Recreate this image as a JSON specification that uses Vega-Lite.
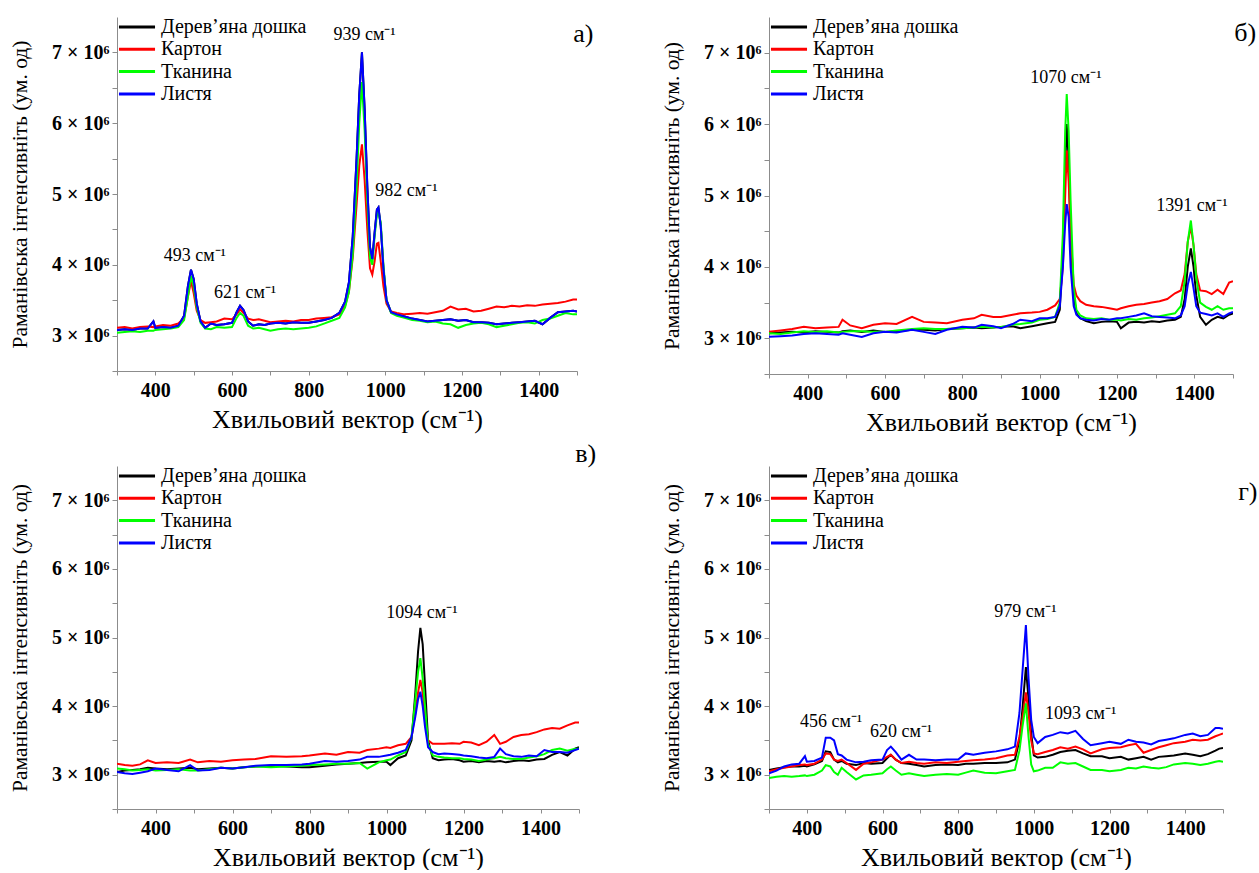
{
"$schema": "https://vega.github.io/schema/vega-lite/v6.json",
"background": "white",
"padding": {"left": 9, "top": 17, "right": 0, "bottom": 0},
"config": {
  "font": "Times New Roman",
  "view": {"stroke": null},
  "axis": {"grid": false, "domainColor": "#8c8c8c", "tickColor": "#8c8c8c", "labelFont": "Times New Roman", "labelFontWeight": "bold", "labelColor": "#000000", "titleFont": "Times New Roman", "titleFontWeight": "normal", "titleColor": "#000000", "labelOverlap": false},
  "axisX": {"labelFontSize": 20, "titleFontSize": 26, "tickSize": 4, "labelPadding": 5, "titlePadding": 6, "labelFlush": false},
  "axisY": {"labelFontSize": 20, "titleFontSize": 21.5, "tickSize": 5, "labelPadding": 3, "titlePadding": 20},
  "legend": {"orient": "top-left", "offset": 0, "padding": 0, "title": null, "symbolType": "stroke", "symbolStrokeWidth": 3, "symbolSize": 1300, "labelFont": "Times New Roman", "labelFontSize": 20, "labelColor": "#000000", "clipHeight": 20, "rowPadding": 2.3, "labelOffset": 4},
  "text": {"font": "Times New Roman", "color": "#000000"}
},
"datasets": {
  "a": [
    {"x":300,"D":3.08e6,"K":3.11e6,"T":3.04e6,"L":3.08e6},
    {"x":320,"D":3.09e6,"K":3.12e6,"T":3.05e6,"L":3.09e6},
    {"x":340,"D":3.08e6,"K":3.10e6,"T":3.06e6,"L":3.08e6},
    {"x":360,"D":3.10e6,"K":3.12e6,"T":3.05e6,"L":3.10e6},
    {"x":380,"D":3.10e6,"K":3.13e6,"T":3.07e6,"L":3.10e6},
    {"x":395,"D":3.20e6,"K":3.12e6,"T":3.07e6,"L":3.20e6},
    {"x":400,"D":3.11e6,"K":3.13e6,"T":3.08e6,"L":3.11e6},
    {"x":420,"D":3.12e6,"K":3.15e6,"T":3.09e6,"L":3.12e6},
    {"x":440,"D":3.11e6,"K":3.14e6,"T":3.10e6,"L":3.11e6},
    {"x":460,"D":3.14e6,"K":3.17e6,"T":3.12e6,"L":3.14e6},
    {"x":475,"D":3.28e6,"K":3.25e6,"T":3.22e6,"L":3.28e6},
    {"x":485,"D":3.70e6,"K":3.55e6,"T":3.55e6,"L":3.70e6},
    {"x":493,"D":3.93e6,"K":3.77e6,"T":3.84e6,"L":3.93e6},
    {"x":500,"D":3.80e6,"K":3.60e6,"T":3.70e6,"L":3.80e6},
    {"x":508,"D":3.45e6,"K":3.35e6,"T":3.40e6,"L":3.45e6},
    {"x":518,"D":3.20e6,"K":3.22e6,"T":3.18e6,"L":3.20e6},
    {"x":530,"D":3.11e6,"K":3.18e6,"T":3.10e6,"L":3.11e6},
    {"x":545,"D":3.17e6,"K":3.19e6,"T":3.09e6,"L":3.17e6},
    {"x":560,"D":3.15e6,"K":3.20e6,"T":3.12e6,"L":3.15e6},
    {"x":580,"D":3.16e6,"K":3.24e6,"T":3.11e6,"L":3.16e6},
    {"x":600,"D":3.18e6,"K":3.23e6,"T":3.12e6,"L":3.18e6},
    {"x":612,"D":3.33e6,"K":3.30e6,"T":3.25e6,"L":3.33e6},
    {"x":621,"D":3.42e6,"K":3.37e6,"T":3.32e6,"L":3.42e6},
    {"x":630,"D":3.36e6,"K":3.32e6,"T":3.28e6,"L":3.36e6},
    {"x":642,"D":3.20e6,"K":3.24e6,"T":3.14e6,"L":3.20e6},
    {"x":655,"D":3.14e6,"K":3.22e6,"T":3.10e6,"L":3.14e6},
    {"x":670,"D":3.16e6,"K":3.23e6,"T":3.11e6,"L":3.16e6},
    {"x":685,"D":3.15e6,"K":3.21e6,"T":3.09e6,"L":3.15e6},
    {"x":700,"D":3.17e6,"K":3.19e6,"T":3.07e6,"L":3.17e6},
    {"x":720,"D":3.18e6,"K":3.20e6,"T":3.09e6,"L":3.18e6},
    {"x":740,"D":3.17e6,"K":3.21e6,"T":3.10e6,"L":3.17e6},
    {"x":760,"D":3.19e6,"K":3.20e6,"T":3.09e6,"L":3.19e6},
    {"x":780,"D":3.18e6,"K":3.22e6,"T":3.10e6,"L":3.18e6},
    {"x":800,"D":3.18e6,"K":3.22e6,"T":3.11e6,"L":3.18e6},
    {"x":820,"D":3.20e6,"K":3.24e6,"T":3.13e6,"L":3.20e6},
    {"x":840,"D":3.22e6,"K":3.25e6,"T":3.17e6,"L":3.22e6},
    {"x":860,"D":3.25e6,"K":3.26e6,"T":3.21e6,"L":3.25e6},
    {"x":880,"D":3.32e6,"K":3.30e6,"T":3.25e6,"L":3.32e6},
    {"x":895,"D":3.48e6,"K":3.42e6,"T":3.40e6,"L":3.48e6},
    {"x":905,"D":3.75e6,"K":3.62e6,"T":3.62e6,"L":3.75e6},
    {"x":915,"D":4.40e6,"K":4.10e6,"T":4.15e6,"L":4.40e6},
    {"x":925,"D":5.50e6,"K":4.85e6,"T":5.10e6,"L":5.50e6},
    {"x":932,"D":6.40e6,"K":5.40e6,"T":6.00e6,"L":6.40e6},
    {"x":939,"D":7.00e6,"K":5.70e6,"T":6.58e6,"L":7.00e6},
    {"x":946,"D":6.20e6,"K":5.20e6,"T":5.90e6,"L":6.20e6},
    {"x":953,"D":5.10e6,"K":4.50e6,"T":4.90e6,"L":5.10e6},
    {"x":960,"D":4.25e6,"K":3.95e6,"T":4.10e6,"L":4.25e6},
    {"x":966,"D":4.08e6,"K":3.86e6,"T":4.00e6,"L":4.08e6},
    {"x":972,"D":4.45e6,"K":4.05e6,"T":4.40e6,"L":4.45e6},
    {"x":978,"D":4.78e6,"K":4.30e6,"T":4.70e6,"L":4.78e6},
    {"x":982,"D":4.81e6,"K":4.31e6,"T":4.74e6,"L":4.81e6},
    {"x":988,"D":4.55e6,"K":4.05e6,"T":4.60e6,"L":4.55e6},
    {"x":995,"D":3.95e6,"K":3.70e6,"T":4.00e6,"L":3.95e6},
    {"x":1003,"D":3.50e6,"K":3.45e6,"T":3.50e6,"L":3.50e6},
    {"x":1015,"D":3.33e6,"K":3.34e6,"T":3.32e6,"L":3.33e6},
    {"x":1030,"D":3.30e6,"K":3.32e6,"T":3.28e6,"L":3.30e6},
    {"x":1050,"D":3.27e6,"K":3.30e6,"T":3.25e6,"L":3.27e6},
    {"x":1070,"D":3.24e6,"K":3.31e6,"T":3.22e6,"L":3.24e6},
    {"x":1090,"D":3.22e6,"K":3.32e6,"T":3.21e6,"L":3.22e6},
    {"x":1110,"D":3.20e6,"K":3.31e6,"T":3.19e6,"L":3.20e6},
    {"x":1130,"D":3.21e6,"K":3.33e6,"T":3.20e6,"L":3.21e6},
    {"x":1150,"D":3.22e6,"K":3.35e6,"T":3.17e6,"L":3.22e6},
    {"x":1170,"D":3.23e6,"K":3.41e6,"T":3.16e6,"L":3.23e6},
    {"x":1190,"D":3.21e6,"K":3.37e6,"T":3.11e6,"L":3.21e6},
    {"x":1210,"D":3.22e6,"K":3.38e6,"T":3.15e6,"L":3.22e6},
    {"x":1230,"D":3.19e6,"K":3.34e6,"T":3.17e6,"L":3.19e6},
    {"x":1250,"D":3.19e6,"K":3.35e6,"T":3.18e6,"L":3.19e6},
    {"x":1270,"D":3.18e6,"K":3.38e6,"T":3.16e6,"L":3.18e6},
    {"x":1290,"D":3.16e6,"K":3.41e6,"T":3.12e6,"L":3.16e6},
    {"x":1310,"D":3.17e6,"K":3.40e6,"T":3.14e6,"L":3.17e6},
    {"x":1330,"D":3.18e6,"K":3.42e6,"T":3.16e6,"L":3.18e6},
    {"x":1350,"D":3.19e6,"K":3.41e6,"T":3.18e6,"L":3.19e6},
    {"x":1370,"D":3.20e6,"K":3.43e6,"T":3.19e6,"L":3.20e6},
    {"x":1390,"D":3.21e6,"K":3.42e6,"T":3.17e6,"L":3.21e6},
    {"x":1410,"D":3.16e6,"K":3.44e6,"T":3.22e6,"L":3.16e6},
    {"x":1430,"D":3.25e6,"K":3.45e6,"T":3.24e6,"L":3.25e6},
    {"x":1450,"D":3.33e6,"K":3.46e6,"T":3.28e6,"L":3.33e6},
    {"x":1470,"D":3.34e6,"K":3.48e6,"T":3.32e6,"L":3.34e6},
    {"x":1490,"D":3.35e6,"K":3.51e6,"T":3.30e6,"L":3.35e6},
    {"x":1500,"D":3.34e6,"K":3.51e6,"T":3.30e6,"L":3.34e6}
  ],
  "b": [
    {"x":300,"D":3.07e6,"K":3.09e6,"T":3.07e6,"L":3.02e6},
    {"x":330,"D":3.08e6,"K":3.11e6,"T":3.06e6,"L":3.03e6},
    {"x":360,"D":3.09e6,"K":3.13e6,"T":3.08e6,"L":3.04e6},
    {"x":390,"D":3.08e6,"K":3.16e6,"T":3.10e6,"L":3.06e6},
    {"x":420,"D":3.10e6,"K":3.14e6,"T":3.09e6,"L":3.07e6},
    {"x":450,"D":3.09e6,"K":3.15e6,"T":3.10e6,"L":3.06e6},
    {"x":480,"D":3.08e6,"K":3.16e6,"T":3.08e6,"L":3.05e6},
    {"x":490,"D":3.10e6,"K":3.26e6,"T":3.09e6,"L":3.07e6},
    {"x":510,"D":3.11e6,"K":3.18e6,"T":3.10e6,"L":3.05e6},
    {"x":540,"D":3.09e6,"K":3.14e6,"T":3.10e6,"L":3.02e6},
    {"x":570,"D":3.11e6,"K":3.19e6,"T":3.09e6,"L":3.07e6},
    {"x":600,"D":3.09e6,"K":3.21e6,"T":3.09e6,"L":3.09e6},
    {"x":630,"D":3.10e6,"K":3.20e6,"T":3.11e6,"L":3.08e6},
    {"x":670,"D":3.12e6,"K":3.30e6,"T":3.13e6,"L":3.12e6},
    {"x":700,"D":3.12e6,"K":3.23e6,"T":3.14e6,"L":3.09e6},
    {"x":730,"D":3.11e6,"K":3.22e6,"T":3.13e6,"L":3.06e6},
    {"x":760,"D":3.13e6,"K":3.21e6,"T":3.13e6,"L":3.12e6},
    {"x":800,"D":3.14e6,"K":3.26e6,"T":3.14e6,"L":3.16e6},
    {"x":830,"D":3.15e6,"K":3.28e6,"T":3.15e6,"L":3.15e6},
    {"x":850,"D":3.14e6,"K":3.33e6,"T":3.16e6,"L":3.19e6},
    {"x":880,"D":3.15e6,"K":3.30e6,"T":3.15e6,"L":3.17e6},
    {"x":900,"D":3.16e6,"K":3.30e6,"T":3.16e6,"L":3.14e6},
    {"x":930,"D":3.17e6,"K":3.33e6,"T":3.19e6,"L":3.20e6},
    {"x":950,"D":3.14e6,"K":3.35e6,"T":3.20e6,"L":3.26e6},
    {"x":980,"D":3.17e6,"K":3.36e6,"T":3.22e6,"L":3.24e6},
    {"x":1000,"D":3.19e6,"K":3.37e6,"T":3.26e6,"L":3.28e6},
    {"x":1020,"D":3.21e6,"K":3.40e6,"T":3.27e6,"L":3.28e6},
    {"x":1040,"D":3.23e6,"K":3.46e6,"T":3.30e6,"L":3.30e6},
    {"x":1052,"D":3.40e6,"K":3.55e6,"T":3.50e6,"L":3.45e6},
    {"x":1060,"D":4.23e6,"K":4.00e6,"T":4.47e6,"L":4.00e6},
    {"x":1066,"D":5.40e6,"K":5.00e6,"T":5.90e6,"L":4.60e6},
    {"x":1070,"D":6.00e6,"K":5.63e6,"T":6.42e6,"L":4.88e6},
    {"x":1075,"D":5.50e6,"K":5.20e6,"T":5.90e6,"L":4.70e6},
    {"x":1080,"D":4.47e6,"K":4.47e6,"T":4.93e6,"L":4.00e6},
    {"x":1088,"D":3.60e6,"K":3.75e6,"T":3.70e6,"L":3.45e6},
    {"x":1095,"D":3.35e6,"K":3.60e6,"T":3.40e6,"L":3.33e6},
    {"x":1105,"D":3.28e6,"K":3.52e6,"T":3.32e6,"L":3.28e6},
    {"x":1120,"D":3.24e6,"K":3.47e6,"T":3.28e6,"L":3.26e6},
    {"x":1140,"D":3.21e6,"K":3.45e6,"T":3.27e6,"L":3.25e6},
    {"x":1160,"D":3.23e6,"K":3.44e6,"T":3.28e6,"L":3.27e6},
    {"x":1180,"D":3.24e6,"K":3.42e6,"T":3.26e6,"L":3.26e6},
    {"x":1200,"D":3.23e6,"K":3.40e6,"T":3.26e6,"L":3.28e6},
    {"x":1210,"D":3.14e6,"K":3.42e6,"T":3.25e6,"L":3.28e6},
    {"x":1230,"D":3.22e6,"K":3.45e6,"T":3.27e6,"L":3.30e6},
    {"x":1250,"D":3.23e6,"K":3.47e6,"T":3.26e6,"L":3.32e6},
    {"x":1270,"D":3.22e6,"K":3.48e6,"T":3.28e6,"L":3.35e6},
    {"x":1290,"D":3.24e6,"K":3.50e6,"T":3.29e6,"L":3.31e6},
    {"x":1310,"D":3.23e6,"K":3.52e6,"T":3.31e6,"L":3.30e6},
    {"x":1330,"D":3.25e6,"K":3.55e6,"T":3.33e6,"L":3.29e6},
    {"x":1350,"D":3.26e6,"K":3.63e6,"T":3.35e6,"L":3.28e6},
    {"x":1365,"D":3.30e6,"K":3.67e6,"T":3.45e6,"L":3.32e6},
    {"x":1375,"D":3.55e6,"K":3.90e6,"T":3.80e6,"L":3.45e6},
    {"x":1383,"D":4.00e6,"K":4.35e6,"T":4.35e6,"L":3.75e6},
    {"x":1391,"D":4.26e6,"K":4.56e6,"T":4.65e6,"L":3.93e6},
    {"x":1398,"D":4.00e6,"K":4.30e6,"T":4.30e6,"L":3.70e6},
    {"x":1405,"D":3.60e6,"K":3.90e6,"T":3.85e6,"L":3.45e6},
    {"x":1415,"D":3.30e6,"K":3.67e6,"T":3.50e6,"L":3.36e6},
    {"x":1430,"D":3.19e6,"K":3.66e6,"T":3.44e6,"L":3.34e6},
    {"x":1445,"D":3.26e6,"K":3.62e6,"T":3.40e6,"L":3.32e6},
    {"x":1460,"D":3.30e6,"K":3.68e6,"T":3.45e6,"L":3.35e6},
    {"x":1475,"D":3.28e6,"K":3.62e6,"T":3.40e6,"L":3.30e6},
    {"x":1490,"D":3.33e6,"K":3.78e6,"T":3.42e6,"L":3.35e6},
    {"x":1500,"D":3.35e6,"K":3.80e6,"T":3.42e6,"L":3.37e6}
  ],
  "c": [
    {"x":300,"D":3.04e6,"K":3.16e6,"T":3.09e6,"L":3.04e6},
    {"x":320,"D":3.06e6,"K":3.14e6,"T":3.08e6,"L":3.02e6},
    {"x":340,"D":3.07e6,"K":3.13e6,"T":3.06e6,"L":3.01e6},
    {"x":360,"D":3.08e6,"K":3.15e6,"T":3.07e6,"L":3.03e6},
    {"x":380,"D":3.10e6,"K":3.21e6,"T":3.08e6,"L":3.05e6},
    {"x":400,"D":3.09e6,"K":3.17e6,"T":3.06e6,"L":3.09e6},
    {"x":430,"D":3.08e6,"K":3.18e6,"T":3.07e6,"L":3.07e6},
    {"x":460,"D":3.09e6,"K":3.17e6,"T":3.08e6,"L":3.05e6},
    {"x":490,"D":3.10e6,"K":3.22e6,"T":3.06e6,"L":3.14e6},
    {"x":510,"D":3.08e6,"K":3.18e6,"T":3.06e6,"L":3.06e6},
    {"x":540,"D":3.09e6,"K":3.20e6,"T":3.08e6,"L":3.07e6},
    {"x":570,"D":3.10e6,"K":3.19e6,"T":3.10e6,"L":3.10e6},
    {"x":600,"D":3.09e6,"K":3.21e6,"T":3.09e6,"L":3.09e6},
    {"x":630,"D":3.11e6,"K":3.22e6,"T":3.11e6,"L":3.11e6},
    {"x":660,"D":3.12e6,"K":3.23e6,"T":3.12e6,"L":3.13e6},
    {"x":700,"D":3.13e6,"K":3.27e6,"T":3.11e6,"L":3.14e6},
    {"x":740,"D":3.12e6,"K":3.26e6,"T":3.12e6,"L":3.14e6},
    {"x":780,"D":3.11e6,"K":3.27e6,"T":3.13e6,"L":3.15e6},
    {"x":800,"D":3.11e6,"K":3.28e6,"T":3.14e6,"L":3.16e6},
    {"x":840,"D":3.13e6,"K":3.31e6,"T":3.15e6,"L":3.20e6},
    {"x":870,"D":3.15e6,"K":3.29e6,"T":3.16e6,"L":3.19e6},
    {"x":900,"D":3.16e6,"K":3.33e6,"T":3.16e6,"L":3.20e6},
    {"x":930,"D":3.17e6,"K":3.32e6,"T":3.17e6,"L":3.22e6},
    {"x":950,"D":3.18e6,"K":3.36e6,"T":3.09e6,"L":3.26e6},
    {"x":980,"D":3.19e6,"K":3.38e6,"T":3.18e6,"L":3.26e6},
    {"x":1000,"D":3.19e6,"K":3.40e6,"T":3.21e6,"L":3.28e6},
    {"x":1010,"D":3.14e6,"K":3.39e6,"T":3.22e6,"L":3.29e6},
    {"x":1030,"D":3.24e6,"K":3.43e6,"T":3.28e6,"L":3.32e6},
    {"x":1050,"D":3.28e6,"K":3.45e6,"T":3.33e6,"L":3.36e6},
    {"x":1065,"D":3.50e6,"K":3.55e6,"T":3.55e6,"L":3.55e6},
    {"x":1075,"D":4.20e6,"K":3.90e6,"T":4.10e6,"L":3.85e6},
    {"x":1082,"D":4.80e6,"K":4.20e6,"T":4.50e6,"L":4.10e6},
    {"x":1088,"D":5.14e6,"K":4.38e6,"T":4.70e6,"L":4.21e6},
    {"x":1094,"D":4.90e6,"K":4.20e6,"T":4.40e6,"L":4.00e6},
    {"x":1100,"D":4.30e6,"K":3.80e6,"T":4.00e6,"L":3.70e6},
    {"x":1108,"D":3.50e6,"K":3.50e6,"T":3.45e6,"L":3.40e6},
    {"x":1120,"D":3.24e6,"K":3.45e6,"T":3.28e6,"L":3.33e6},
    {"x":1135,"D":3.21e6,"K":3.45e6,"T":3.26e6,"L":3.30e6},
    {"x":1150,"D":3.22e6,"K":3.45e6,"T":3.25e6,"L":3.31e6},
    {"x":1170,"D":3.23e6,"K":3.46e6,"T":3.24e6,"L":3.30e6},
    {"x":1190,"D":3.21e6,"K":3.45e6,"T":3.24e6,"L":3.29e6},
    {"x":1200,"D":3.19e6,"K":3.48e6,"T":3.23e6,"L":3.28e6},
    {"x":1220,"D":3.20e6,"K":3.47e6,"T":3.22e6,"L":3.27e6},
    {"x":1240,"D":3.18e6,"K":3.43e6,"T":3.20e6,"L":3.25e6},
    {"x":1260,"D":3.20e6,"K":3.48e6,"T":3.22e6,"L":3.24e6},
    {"x":1280,"D":3.19e6,"K":3.58e6,"T":3.24e6,"L":3.26e6},
    {"x":1295,"D":3.20e6,"K":3.45e6,"T":3.26e6,"L":3.38e6},
    {"x":1310,"D":3.18e6,"K":3.48e6,"T":3.24e6,"L":3.30e6},
    {"x":1330,"D":3.20e6,"K":3.55e6,"T":3.23e6,"L":3.27e6},
    {"x":1350,"D":3.21e6,"K":3.58e6,"T":3.23e6,"L":3.26e6},
    {"x":1370,"D":3.20e6,"K":3.59e6,"T":3.25e6,"L":3.28e6},
    {"x":1390,"D":3.22e6,"K":3.62e6,"T":3.27e6,"L":3.27e6},
    {"x":1410,"D":3.23e6,"K":3.66e6,"T":3.30e6,"L":3.36e6},
    {"x":1430,"D":3.29e6,"K":3.68e6,"T":3.36e6,"L":3.33e6},
    {"x":1450,"D":3.33e6,"K":3.67e6,"T":3.38e6,"L":3.33e6},
    {"x":1470,"D":3.28e6,"K":3.72e6,"T":3.35e6,"L":3.32e6},
    {"x":1490,"D":3.38e6,"K":3.76e6,"T":3.38e6,"L":3.36e6},
    {"x":1500,"D":3.40e6,"K":3.76e6,"T":3.38e6,"L":3.38e6}
  ],
  "d": [
    {"x":300,"D":3.07e6,"K":3.05e6,"T":2.95e6,"L":3.02e6},
    {"x":320,"D":3.09e6,"K":3.08e6,"T":2.97e6,"L":3.06e6},
    {"x":340,"D":3.11e6,"K":3.10e6,"T":2.98e6,"L":3.12e6},
    {"x":360,"D":3.12e6,"K":3.12e6,"T":2.97e6,"L":3.15e6},
    {"x":380,"D":3.12e6,"K":3.14e6,"T":2.98e6,"L":3.16e6},
    {"x":395,"D":3.13e6,"K":3.15e6,"T":2.99e6,"L":3.27e6},
    {"x":400,"D":3.12e6,"K":3.14e6,"T":2.98e6,"L":3.19e6},
    {"x":420,"D":3.15e6,"K":3.16e6,"T":3.00e6,"L":3.20e6},
    {"x":440,"D":3.20e6,"K":3.22e6,"T":3.06e6,"L":3.25e6},
    {"x":450,"D":3.34e6,"K":3.31e6,"T":3.14e6,"L":3.54e6},
    {"x":462,"D":3.33e6,"K":3.30e6,"T":3.12e6,"L":3.54e6},
    {"x":472,"D":3.22e6,"K":3.22e6,"T":3.04e6,"L":3.50e6},
    {"x":482,"D":3.18e6,"K":3.20e6,"T":3.00e6,"L":3.30e6},
    {"x":492,"D":3.20e6,"K":3.22e6,"T":3.10e6,"L":3.28e6},
    {"x":505,"D":3.16e6,"K":3.17e6,"T":3.04e6,"L":3.22e6},
    {"x":530,"D":3.14e6,"K":3.07e6,"T":2.93e6,"L":3.18e6},
    {"x":550,"D":3.17e6,"K":3.16e6,"T":2.99e6,"L":3.19e6},
    {"x":570,"D":3.16e6,"K":3.18e6,"T":3.00e6,"L":3.21e6},
    {"x":600,"D":3.17e6,"K":3.22e6,"T":3.02e6,"L":3.22e6},
    {"x":612,"D":3.24e6,"K":3.26e6,"T":3.08e6,"L":3.36e6},
    {"x":622,"D":3.29e6,"K":3.29e6,"T":3.12e6,"L":3.41e6},
    {"x":635,"D":3.22e6,"K":3.22e6,"T":3.06e6,"L":3.33e6},
    {"x":650,"D":3.17e6,"K":3.17e6,"T":3.00e6,"L":3.22e6},
    {"x":670,"D":3.16e6,"K":3.19e6,"T":3.02e6,"L":3.29e6},
    {"x":690,"D":3.14e6,"K":3.17e6,"T":3.00e6,"L":3.22e6},
    {"x":710,"D":3.12e6,"K":3.16e6,"T":2.98e6,"L":3.22e6},
    {"x":740,"D":3.14e6,"K":3.18e6,"T":3.00e6,"L":3.21e6},
    {"x":770,"D":3.15e6,"K":3.17e6,"T":3.01e6,"L":3.22e6},
    {"x":800,"D":3.14e6,"K":3.19e6,"T":3.00e6,"L":3.22e6},
    {"x":820,"D":3.16e6,"K":3.20e6,"T":3.03e6,"L":3.31e6},
    {"x":840,"D":3.16e6,"K":3.21e6,"T":3.06e6,"L":3.29e6},
    {"x":870,"D":3.17e6,"K":3.22e6,"T":3.03e6,"L":3.32e6},
    {"x":900,"D":3.17e6,"K":3.24e6,"T":3.02e6,"L":3.34e6},
    {"x":930,"D":3.18e6,"K":3.28e6,"T":3.05e6,"L":3.37e6},
    {"x":950,"D":3.22e6,"K":3.29e6,"T":3.07e6,"L":3.41e6},
    {"x":962,"D":3.50e6,"K":3.55e6,"T":3.35e6,"L":3.90e6},
    {"x":970,"D":3.96e6,"K":3.82e6,"T":3.70e6,"L":4.50e6},
    {"x":979,"D":4.57e6,"K":4.20e6,"T":4.04e6,"L":5.18e6},
    {"x":986,"D":4.10e6,"K":3.90e6,"T":3.55e6,"L":4.40e6},
    {"x":993,"D":3.60e6,"K":3.50e6,"T":3.15e6,"L":3.80e6},
    {"x":1000,"D":3.28e6,"K":3.31e6,"T":3.05e6,"L":3.55e6},
    {"x":1010,"D":3.25e6,"K":3.30e6,"T":3.06e6,"L":3.46e6},
    {"x":1030,"D":3.26e6,"K":3.33e6,"T":3.10e6,"L":3.55e6},
    {"x":1050,"D":3.29e6,"K":3.36e6,"T":3.10e6,"L":3.58e6},
    {"x":1070,"D":3.33e6,"K":3.40e6,"T":3.18e6,"L":3.62e6},
    {"x":1090,"D":3.35e6,"K":3.38e6,"T":3.16e6,"L":3.60e6},
    {"x":1110,"D":3.36e6,"K":3.41e6,"T":3.17e6,"L":3.64e6},
    {"x":1130,"D":3.31e6,"K":3.37e6,"T":3.12e6,"L":3.52e6},
    {"x":1150,"D":3.27e6,"K":3.31e6,"T":3.07e6,"L":3.43e6},
    {"x":1180,"D":3.27e6,"K":3.37e6,"T":3.07e6,"L":3.46e6},
    {"x":1200,"D":3.24e6,"K":3.39e6,"T":3.05e6,"L":3.48e6},
    {"x":1230,"D":3.26e6,"K":3.40e6,"T":3.07e6,"L":3.45e6},
    {"x":1250,"D":3.22e6,"K":3.43e6,"T":3.10e6,"L":3.51e6},
    {"x":1270,"D":3.24e6,"K":3.45e6,"T":3.09e6,"L":3.48e6},
    {"x":1290,"D":3.26e6,"K":3.32e6,"T":3.12e6,"L":3.47e6},
    {"x":1310,"D":3.22e6,"K":3.36e6,"T":3.10e6,"L":3.44e6},
    {"x":1330,"D":3.26e6,"K":3.40e6,"T":3.09e6,"L":3.49e6},
    {"x":1350,"D":3.27e6,"K":3.43e6,"T":3.11e6,"L":3.51e6},
    {"x":1370,"D":3.28e6,"K":3.46e6,"T":3.15e6,"L":3.53e6},
    {"x":1400,"D":3.31e6,"K":3.48e6,"T":3.17e6,"L":3.58e6},
    {"x":1420,"D":3.29e6,"K":3.51e6,"T":3.16e6,"L":3.60e6},
    {"x":1440,"D":3.27e6,"K":3.50e6,"T":3.14e6,"L":3.56e6},
    {"x":1460,"D":3.30e6,"K":3.51e6,"T":3.16e6,"L":3.58e6},
    {"x":1480,"D":3.35e6,"K":3.56e6,"T":3.19e6,"L":3.68e6},
    {"x":1490,"D":3.38e6,"K":3.58e6,"T":3.20e6,"L":3.68e6},
    {"x":1500,"D":3.39e6,"K":3.60e6,"T":3.19e6,"L":3.67e6}
  ],
  "ann": [
    {"p":"a","x":503,"y":4.12e6,"t":"493 см⁻¹"},
    {"p":"a","x":634,"y":3.60e6,"t":"621 см⁻¹"},
    {"p":"a","x":946,"y":7.24e6,"t":"939 см⁻¹"},
    {"p":"a","x":1055,"y":5.04e6,"t":"982 см⁻¹"},
    {"p":"b","x":1068,"y":6.65e6,"t":"1070 см⁻¹"},
    {"p":"b","x":1394,"y":4.85e6,"t":"1391 см⁻¹"},
    {"p":"c","x":1092,"y":5.36e6,"t":"1094 см⁻¹"},
    {"p":"d","x":464,"y":3.77e6,"t":"456 см⁻¹"},
    {"p":"d","x":649,"y":3.62e6,"t":"620 см⁻¹"},
    {"p":"d","x":978,"y":5.37e6,"t":"979 см⁻¹"},
    {"p":"d","x":1124,"y":3.88e6,"t":"1093 см⁻¹"}
  ],
  "lab": [
    {"p":"a","x":1490,"y":7.26e6,"t":"а)"},
    {"p":"b","x":1503,"y":7.28e6,"t":"б)"},
    {"p":"c","x":1490,"y":7.67e6,"t":"в)"},
    {"p":"d","x":1540,"y":7.12e6,"t":"г)"}
  ]
},
"columns": 2,
"bounds": "flush",
"spacing": {"row": 92, "column": 190},
"resolve": {"scale": {"color": "independent"}, "legend": {"color": "independent"}},
"concat": [
  {
    "width": 460, "height": 354,
    "encoding": {
      "x": {"field": "x", "type": "quantitative", "scale": {"domain": [300, 1500], "nice": false}, "axis": {"values": [300,400,500,600,700,800,900,1000,1100,1200,1300,1400,1500], "labelExpr": "datum.value % 200 == 0 ? datum.value : ''", "title": "Хвильовий вектор (см⁻¹)"}},
      "y": {"field": "y", "type": "quantitative", "scale": {"domain": [2500000, 7500000], "nice": false}, "axis": {"values": [2500000,3000000,3500000,4000000,4500000,5000000,5500000,6000000,6500000,7000000], "labelExpr": "datum.value % 1000000 == 0 ? (datum.value / 1000000) + ' × 10⁶' : ''", "title": "Раманівська інтенсивніть (ум. од)"}}
    },
    "layer": [
      {"data": {"name": "a"}, "transform": [{"fold": ["D","K","T","L"], "as": ["s","y"]}],
       "mark": {"type": "line", "strokeWidth": 2, "clip": true},
       "encoding": {"color": {"field": "s", "type": "nominal", "scale": {"domain": ["D","K","T","L"], "range": ["#000000","#ff0000","#00ff00","#0000ff"]}, "legend": {"labelExpr": "datum.label == 'D' ? 'Дерев’яна дошка' : datum.label == 'K' ? 'Картон' : datum.label == 'T' ? 'Тканина' : 'Листя'"}}}},
      {"data": {"name": "ann"}, "transform": [{"filter": "datum.p == 'a'"}], "mark": {"type": "text", "fontSize": 18, "align": "center", "baseline": "middle"}, "encoding": {"text": {"field": "t"}}},
      {"data": {"name": "lab"}, "transform": [{"filter": "datum.p == 'a'"}], "mark": {"type": "text", "fontSize": 26, "align": "left", "baseline": "middle"}, "encoding": {"text": {"field": "t"}}}
    ]
  },
  {
    "width": 464, "height": 357,
    "encoding": {
      "x": {"field": "x", "type": "quantitative", "scale": {"domain": [300, 1500], "nice": false}, "axis": {"values": [300,400,500,600,700,800,900,1000,1100,1200,1300,1400,1500], "labelExpr": "datum.value % 200 == 0 ? datum.value : ''", "title": "Хвильовий вектор (см⁻¹)"}},
      "y": {"field": "y", "type": "quantitative", "scale": {"domain": [2500000, 7500000], "nice": false}, "axis": {"values": [2500000,3000000,3500000,4000000,4500000,5000000,5500000,6000000,6500000,7000000], "labelExpr": "datum.value % 1000000 == 0 ? (datum.value / 1000000) + ' × 10⁶' : ''", "title": "Раманівська інтенсивніть (ум. од)"}}
    },
    "layer": [
      {"data": {"name": "b"}, "transform": [{"fold": ["D","K","T","L"], "as": ["s","y"]}],
       "mark": {"type": "line", "strokeWidth": 2, "clip": true},
       "encoding": {"color": {"field": "s", "type": "nominal", "scale": {"domain": ["D","K","T","L"], "range": ["#000000","#ff0000","#00ff00","#0000ff"]}, "legend": {"labelExpr": "datum.label == 'D' ? 'Дерев’яна дошка' : datum.label == 'K' ? 'Картон' : datum.label == 'T' ? 'Тканина' : 'Листя'"}}}},
      {"data": {"name": "ann"}, "transform": [{"filter": "datum.p == 'b'"}], "mark": {"type": "text", "fontSize": 18, "align": "center", "baseline": "middle"}, "encoding": {"text": {"field": "t"}}},
      {"data": {"name": "lab"}, "transform": [{"filter": "datum.p == 'b'"}], "mark": {"type": "text", "fontSize": 26, "align": "left", "baseline": "middle"}, "encoding": {"text": {"field": "t"}}}
    ]
  },
  {
    "width": 462, "height": 343,
    "encoding": {
      "x": {"field": "x", "type": "quantitative", "scale": {"domain": [300, 1500], "nice": false}, "axis": {"values": [300,400,500,600,700,800,900,1000,1100,1200,1300,1400,1500], "labelExpr": "datum.value % 200 == 0 ? datum.value : ''", "title": "Хвильовий вектор (см⁻¹)"}},
      "y": {"field": "y", "type": "quantitative", "scale": {"domain": [2500000, 7500000], "nice": false}, "axis": {"values": [2500000,3000000,3500000,4000000,4500000,5000000,5500000,6000000,6500000,7000000], "labelExpr": "datum.value % 1000000 == 0 ? (datum.value / 1000000) + ' × 10⁶' : ''", "title": "Раманівська інтенсивніть (ум. од)"}}
    },
    "layer": [
      {"data": {"name": "c"}, "transform": [{"fold": ["D","K","T","L"], "as": ["s","y"]}],
       "mark": {"type": "line", "strokeWidth": 2, "clip": true},
       "encoding": {"color": {"field": "s", "type": "nominal", "scale": {"domain": ["D","K","T","L"], "range": ["#000000","#ff0000","#00ff00","#0000ff"]}, "legend": {"labelExpr": "datum.label == 'D' ? 'Дерев’яна дошка' : datum.label == 'K' ? 'Картон' : datum.label == 'T' ? 'Тканина' : 'Листя'"}}}},
      {"data": {"name": "ann"}, "transform": [{"filter": "datum.p == 'c'"}], "mark": {"type": "text", "fontSize": 18, "align": "center", "baseline": "middle"}, "encoding": {"text": {"field": "t"}}},
      {"data": {"name": "lab"}, "transform": [{"filter": "datum.p == 'c'"}], "mark": {"type": "text", "fontSize": 26, "align": "left", "baseline": "middle"}, "encoding": {"text": {"field": "t"}}}
    ]
  },
  {
    "width": 454, "height": 343,
    "encoding": {
      "x": {"field": "x", "type": "quantitative", "scale": {"domain": [300, 1500], "nice": false}, "axis": {"values": [300,400,500,600,700,800,900,1000,1100,1200,1300,1400,1500], "labelExpr": "datum.value % 200 == 0 ? datum.value : ''", "title": "Хвильовий вектор (см⁻¹)"}},
      "y": {"field": "y", "type": "quantitative", "scale": {"domain": [2500000, 7500000], "nice": false}, "axis": {"values": [2500000,3000000,3500000,4000000,4500000,5000000,5500000,6000000,6500000,7000000], "labelExpr": "datum.value % 1000000 == 0 ? (datum.value / 1000000) + ' × 10⁶' : ''", "title": "Раманівська інтенсивніть (ум. од)"}}
    },
    "layer": [
      {"data": {"name": "d"}, "transform": [{"fold": ["D","K","T","L"], "as": ["s","y"]}],
       "mark": {"type": "line", "strokeWidth": 2, "clip": true},
       "encoding": {"color": {"field": "s", "type": "nominal", "scale": {"domain": ["D","K","T","L"], "range": ["#000000","#ff0000","#00ff00","#0000ff"]}, "legend": {"labelExpr": "datum.label == 'D' ? 'Дерев’яна дошка' : datum.label == 'K' ? 'Картон' : datum.label == 'T' ? 'Тканина' : 'Листя'"}}}},
      {"data": {"name": "ann"}, "transform": [{"filter": "datum.p == 'd'"}], "mark": {"type": "text", "fontSize": 18, "align": "center", "baseline": "middle"}, "encoding": {"text": {"field": "t"}}},
      {"data": {"name": "lab"}, "transform": [{"filter": "datum.p == 'd'"}], "mark": {"type": "text", "fontSize": 26, "align": "left", "baseline": "middle"}, "encoding": {"text": {"field": "t"}}}
    ]
  }
]
}
